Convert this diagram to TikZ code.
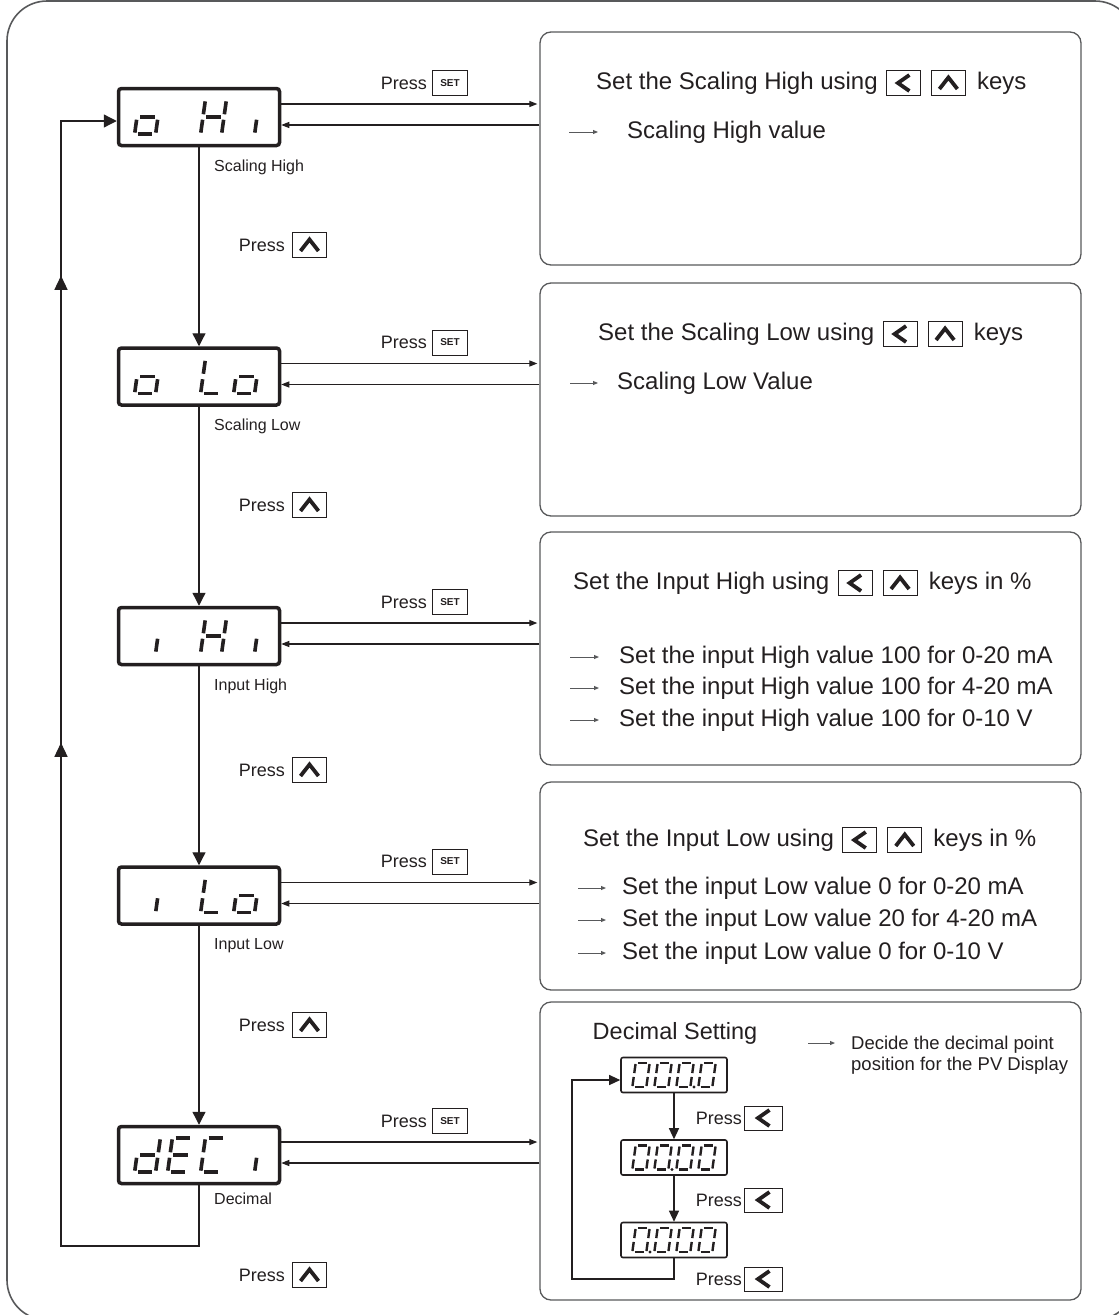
\documentclass[tikz,border=0pt]{standalone}
\usepackage{fontspec}
\setmainfont{Liberation Sans}
\usetikzlibrary{positioning,arrows.meta,decorations.markings}

\definecolor{ink}{HTML}{231F20}
\definecolor{panelgray}{HTML}{58595B}

% one segment of a seven segment digit, 1=a ... 7=g
\newcommand\segline[1]{\ifcase#1\or
  \draw[seg] (0.16,-0.5) -- (0.84,-0.5);\or
  \draw[seg] (1,-0.46) -- (1,-0.08);\or
  \draw[seg] (1,0.08) -- (1,0.46);\or
  \draw[seg] (0.16,0.5) -- (0.84,0.5);\or
  \draw[seg] (0,0.08) -- (0,0.46);\or
  \draw[seg] (0,-0.46) -- (0,-0.08);\or
  \draw[seg] (0.16,0) -- (0.84,0);\fi}
% one slanted digit inside a display node
\newcommand\lcdchar[6][]{%
  \begin{scope}[shift={(#2.center)},xshift=#3pt,xslant=0.14,xscale=#4,yscale=#5,#1]
    \edef\lcdsegs{#6}%
    \foreach \s in \lcdsegs {\segline{\s}}
  \end{scope}}

\begin{document}
\begin{tikzpicture}[x=1pt,y=-1pt,
    % display with a thick rim
    lcd/.style={rectangle, draw=ink, line width=3.5pt, rounded corners=3pt, minimum width=161pt, minimum height=57pt, inner sep=0pt},
    minilcd/.style={rectangle, draw=ink, line width=1.6pt, rounded corners=2pt, minimum width=106pt, minimum height=35pt, inner sep=0pt},
    seg/.style={draw=ink, line width=3.6pt, line cap=butt},
    % grey boxes on the right
    panel/.style={rectangle, draw=panelgray, line width=1.3pt, rounded corners=11pt, inner sep=0pt},
    outerframe/.style={draw=panelgray, line width=1.6pt, rounded corners=40pt},
    txt/.style={inner sep=0pt, text=ink, font=\fontsize{24}{28}\selectfont, text height=18pt, text depth=5pt},
    small/.style={inner sep=0pt, text=ink, font=\fontsize{16}{18}\selectfont},
    press/.style={inner sep=0pt, text=ink, font=\fontsize{18}{20}\selectfont},
    notetxt/.style={inner sep=0pt, text=ink, align=left, font=\fontsize{18.5}{21.5}\selectfont},
    % key symbols
    setkey/.style={draw=ink, line width=1pt, minimum width=35pt, minimum height=25pt, inner sep=0pt, text=ink, font=\fontsize{10}{10}\selectfont\bfseries},
    upkey/.style={draw=ink, line width=1pt, minimum width=34pt, minimum height=25pt, inner sep=0pt,
      path picture={\draw[ink, line width=3.8pt] ([xshift=-9pt,yshift=-6pt]path picture bounding box.center) -- ([yshift=5.5pt]path picture bounding box.center) -- ([xshift=9pt,yshift=-6pt]path picture bounding box.center);}},
    leftkey/.style={draw=ink, line width=1pt, minimum width=34pt, minimum height=25pt, inner sep=0pt,
      path picture={\draw[ink, line width=3.8pt] ([xshift=6pt,yshift=8pt]path picture bounding box.center) -- ([xshift=-5.5pt]path picture bounding box.center) -- ([xshift=6pt,yshift=-8pt]path picture bounding box.center);}},
    % connectors
    mainline/.style={draw=ink, line width=1.3pt},
    mainarrow/.style={draw=ink, line width=1.3pt, -{Triangle[length=13pt,width=13pt]}},
    setarrow/.style={draw=ink, line width=1.2pt, -{Triangle[length=8pt,width=6pt]}},
    miniarrow/.style={draw=ink, line width=1.2pt, -{Triangle[length=11pt,width=10pt]}},
    bullet/.style={draw=panelgray, line width=0.9pt, -{Triangle[length=5pt,width=4pt]}},
    node distance=259.5pt
  ]
  \useasboundingbox (0,0) rectangle (1119,1315);
  \draw[outerframe] (7,1) rectangle (1135,1320);

  %Displays
  \node[lcd]                 (oHi)                 at (199,117)  {};
  \node[lcd]                 (oLo)                 [below of=oHi] {};
  \node[lcd]                 (iHi)                 [below of=oLo] {};
  \node[lcd]                 (iLo)                 [below of=iHi] {};
  \node[lcd]                 (dEC)                 [below of=iLo] {};
  \foreach \n/\dx/\segs in {oHi/-62/{3,4,5,7}, oHi/4/{2,3,5,6,7}, oHi/37/{3},
      oLo/-62/{3,4,5,7}, oLo/4/{4,5,6}, oLo/37/{3,4,5,7},
      iHi/-62/{3}, iHi/4/{2,3,5,6,7}, iHi/37/{3},
      iLo/-62/{3}, iLo/4/{4,5,6}, iLo/37/{3,4,5,7},
      dEC/-62/{2,3,4,5,7}, dEC/-29/{1,4,5,6,7}, dEC/4/{1,4,5,6}, dEC/37/{3}}
    {\lcdchar{\n}{\dx}{21}{34}{\segs}}

  %Boxes on the right
  \node[panel, minimum width=541pt, minimum height=233pt] (box1) at (810.5,148.5)  {};
  \node[panel, minimum width=541pt, minimum height=233pt] (box2) at (810.5,399.5)  {};
  \node[panel, minimum width=541pt, minimum height=233pt] (box3) at (810.5,648.5)  {};
  \node[panel, minimum width=541pt, minimum height=208pt] (box4) at (810.5,886)    {};
  \node[panel, minimum width=541pt, minimum height=298pt] (box5) at (810.5,1151)   {};

  %Lines
  \foreach \a/\b in {oHi/oLo, oLo/iHi, iHi/iLo, iLo/dEC}
    \draw[mainarrow] (\a) -- (\b);
  \coordinate (mainloop) at (61,1246);
  \draw[mainline, -{Triangle[length=13pt,width=13pt]},
      decoration={markings,
        mark=at position 702pt with {\arrow{Triangle[length=14pt,width=13pt]}},
        mark=at position 1169pt with {\arrow{Triangle[length=14pt,width=13pt]}}},
      postaction={decorate}]
    (dEC.south) |- (mainloop) |- ([yshift=-4pt]oHi.west);

  \foreach \n/\b/\lbl/\ly/\py in {oHi/box1/Scaling High/50pt/245, oLo/box2/Scaling Low/50pt/505,
      iHi/box3/Input High/50pt/770, iLo/box4/Input Low/50pt/1025, dEC/box5/Decimal/44pt/1275} {
    \draw[setarrow, shorten >=2pt] ([yshift=13pt]\n.east) -- ([yshift=13pt]\n.east -| \b.west);
    \draw[setarrow] ([yshift=-8pt]\n.east -| \b.west) -- ([yshift=-8pt]\n.east);
    \node[small, anchor=west] at ([xshift=15pt,yshift=-\ly]\n.center) {\lbl};
    \node[press, anchor=east] (ps\n) at ([xshift=228pt,yshift=34pt]\n.center) {Press};
    \node[setkey, right=5pt of ps\n] {SET};
    \node[press, anchor=east] (pu\n) at (285,\py) {Press};
    \node[upkey, right=7pt of pu\n] {};
  }

  %Headings with the two keys
  \foreach \i/\hx/\hy/\htext/\tail in {1/596/83/Set the Scaling High using/keys,
      2/598/334/Set the Scaling Low using/keys,
      3/573/583/Set the Input High using/keys in \%,
      4/583/840/Set the Input Low using/keys in \%} {
    \node[txt, anchor=west] (head\i) at (\hx,\hy) {\htext};
    \node[leftkey, right=8pt of head\i] (headl\i) {};
    \node[upkey, right=10pt of headl\i] (headu\i) {};
    \node[txt, right=11pt of headu\i] {\tail};
  }

  \node[txt, anchor=west] (val1) at (627,132) {Scaling High value};
  \draw[bullet] ([xshift=-58pt]val1.west) -- ([xshift=-29pt]val1.west);
  \node[txt, anchor=west] (val2) at (617,383) {Scaling Low Value};
  \draw[bullet] ([xshift=-47pt]val2.west) -- ([xshift=-19pt]val2.west);
  \foreach \k/\vy/\vtext in {1/657/100 for 0-20 mA, 2/688/100 for 4-20 mA, 3/720/100 for 0-10 V} {
    \node[txt, anchor=west] (hi\k) at (619,\vy) {Set the input High value \vtext};
    \draw[bullet] ([xshift=-49pt]hi\k.west) -- ([xshift=-20pt]hi\k.west);
  }
  \foreach \k/\vy/\vtext in {1/888/0 for 0-20 mA, 2/920/20 for 4-20 mA, 3/953/0 for 0-10 V} {
    \node[txt, anchor=west] (lo\k) at (622,\vy) {Set the input Low value \vtext};
    \draw[bullet] ([xshift=-44pt]lo\k.west) -- ([xshift=-16pt]lo\k.west);
  }

  %Decimal setting
  \node[txt, font=\fontsize{23.5}{28}\selectfont] (dectitle) at (675,1033) {Decimal Setting};
  \node[notetxt, anchor=west] (decnote) at (851,1055) {Decide the decimal point\\position for the PV Display};
  \draw[bullet] ([xshift=-43pt,yshift=12pt]decnote.west) -- ([xshift=-16pt,yshift=12pt]decnote.west);

  \node[minilcd]             (dp1)                 at (674,1075) {};
  \node[minilcd]             (dp2)                 [below of=dp1, node distance=82.5pt] {};
  \node[minilcd]             (dp3)                 [below of=dp2, node distance=82.5pt] {};
  \foreach \d in {dp1,dp2,dp3}
    \foreach \dx in {-40,-18,4,26}
      {\lcdchar[seg/.append style={line width=2.4pt}]{\d}{\dx}{14}{24}{1,2,3,4,5,6}}
  \fill[ink] ([xshift=20pt,yshift=-12pt]dp1.center) circle[radius=1.6pt];
  \fill[ink] ([xshift=-2pt,yshift=-12pt]dp2.center) circle[radius=1.6pt];
  \fill[ink] ([xshift=-24pt,yshift=-12pt]dp3.center) circle[radius=1.6pt];

  \draw[miniarrow] (dp1) -- (dp2);
  \draw[miniarrow] (dp2) -- (dp3);
  \coordinate (decloop) at (572,1279);
  \draw[miniarrow] (dp3.south) |- (decloop) |- ([yshift=-5pt]dp1.west);

  \foreach \d/\py in {dp1/1118, dp2/1200, dp3/1279} {
    \node[press, anchor=east] (pl\d) at (742,\py) {Press};
    \node[leftkey, minimum width=38pt, minimum height=24pt, right=2pt of pl\d] {};
  }
\end{tikzpicture}
\end{document}
